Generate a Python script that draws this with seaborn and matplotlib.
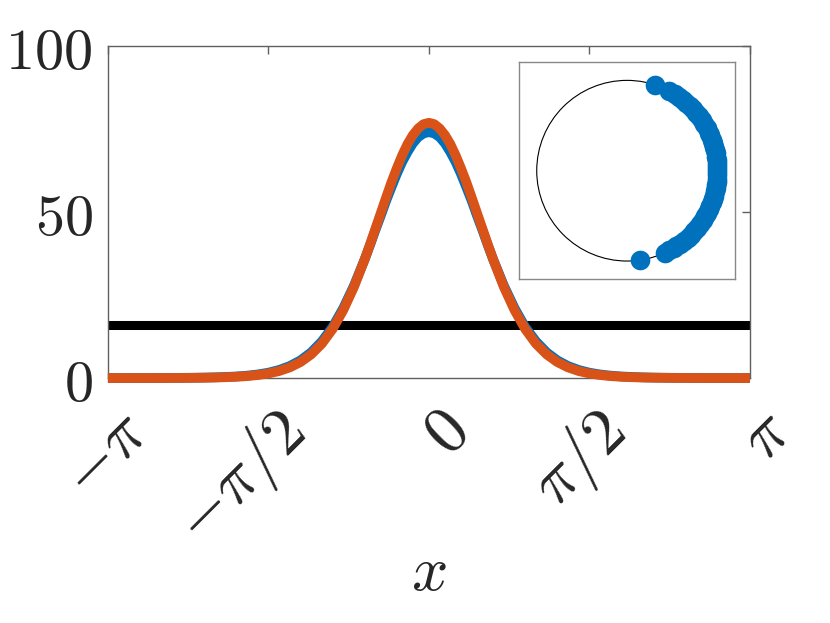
import numpy as np
import matplotlib
matplotlib.use("Agg")
import matplotlib.pyplot as plt
import matplotlib.transforms as mtransforms
import seaborn as sns
from matplotlib.patches import Circle

############################################################
# DATA
############################################################

# sampling grid of the density curves, degrees (finer near the peak)
x_deg = [
    -180, -174, -168, -162, -156, -150, -144, -138, -132, -126, -120,
    -114, -108, -102, -96, -90, -84, -78, -72, -66, -60, -54, -48, -42,
    -36, -33, -30, -27, -24, -21, -18, -15, -12, -9, -6, -3,
    0,
    3, 6, 9, 12, 15, 18, 21, 24, 27, 30, 33, 36,
    42, 48, 54, 60, 66, 72, 78, 84, 90, 96, 102, 108, 114, 120,
    126, 132, 138, 144, 150, 156, 162, 168, 174, 180,
]

# empirical density (blue), values at x_deg
empirical = [
    0.04, 0.04, 0.04, 0.05, 0.05, 0.06, 0.08, 0.10, 0.13, 0.18, 0.25,
    0.36, 0.51, 0.75, 1.11, 1.65, 2.47, 3.65, 5.36, 7.77, 11.1, 15.4,
    21.1, 27.9,
    35.8, 40.1, 44.6, 48.9, 53.4, 57.5, 61.5, 65.1, 68.1, 70.7, 72.6, 73.7,
    74.1,
    73.7, 72.6, 70.7, 68.1, 65.1, 61.5, 57.5, 53.4, 48.9, 44.6, 40.1, 35.8,
    27.9, 21.1, 15.4, 11.1, 7.77, 5.36, 3.65, 2.47, 1.65, 1.11, 0.75,
    0.51, 0.36, 0.25, 0.18, 0.13, 0.10, 0.08, 0.06, 0.05, 0.05, 0.04,
    0.04, 0.04,
]

# theoretical density (orange), values at x_deg
theory = [
    0.03, 0.03, 0.03, 0.03, 0.04, 0.04, 0.06, 0.07, 0.10, 0.13, 0.19,
    0.28, 0.41, 0.61, 0.93, 1.41, 2.14, 3.24, 4.85, 7.17, 10.4, 14.8,
    20.5, 27.5,
    35.8, 40.3, 45.0, 49.7, 54.4, 59.0, 63.2, 67.1, 70.5, 73.2, 75.2, 76.5,
    76.9,
    76.5, 75.2, 73.2, 70.5, 67.1, 63.2, 59.0, 54.4, 49.7, 45.0, 40.3, 35.8,
    27.5, 20.5, 14.8, 10.4, 7.17, 4.85, 3.24, 2.14, 1.41, 0.93, 0.61,
    0.41, 0.28, 0.19, 0.13, 0.10, 0.07, 0.06, 0.04, 0.04, 0.03, 0.03,
    0.03, 0.03,
]

# uniform level (black line)
uniform_level = 15.9

# oscillator phases shown in the inset, degrees
phases_deg = [
    -82, -65, -62, -59, -57, -54, -51, -48, -45, -42, -39, -36, -33,
    -30, -28, -25, -23, -20, -18, -16, -13, -11, -9, -7, -5, -3, -1,
    1, 3, 5, 7, 9, 11, 13, 15, 18, 20, 23, 25, 28, 31, 34, 37, 40,
    43, 46, 49, 52, 55, 58, 62, 72,
]

xtick_vals = [-np.pi, -np.pi / 2, 0, np.pi / 2, np.pi]
xtick_labels = [r"$-\pi$", r"$-\pi/2$", r"$0$", r"$\pi/2$", r"$\pi$"]
ytick_vals = [0, 50, 100]
ytick_labels = [r"$0$", r"$50$", r"$100$"]

############################################################
# STYLE
############################################################

sns.set_theme(style="white")
plt.rcParams["font.family"] = ["DejaVu Sans"]
plt.rcParams["mathtext.fontset"] = "cm"

blue = "#0072BD"
orange = "#D95319"
spine_gray = "#606060"

x_rad = np.deg2rad(x_deg)

############################################################
# MAIN AXES
############################################################

fig = plt.figure(figsize=(8.3, 6.23), dpi=100)
ax = fig.add_axes([0.130, 0.393, 0.7735, 0.533])

ax.axhline(uniform_level, color="black", linewidth=6.5, zorder=2,
           solid_capstyle="butt")

sns.lineplot(x=x_rad, y=empirical, color=blue, linewidth=7,
             ax=ax, clip_on=False, zorder=3, solid_capstyle="butt")
sns.lineplot(x=x_rad, y=theory, color=orange, linewidth=7,
             ax=ax, clip_on=False, zorder=4, solid_capstyle="butt")

ax.set_xlim(-np.pi, np.pi)
ax.set_ylim(0, 100)

# rotated x tick labels, right-top corner a bit right of the tick (MATLAB style)
ax.set_xticks(xtick_vals)
ax.set_xticklabels([])
shift = mtransforms.ScaledTranslation(53 / 100, -20 / 100, fig.dpi_scale_trans)
for val, lab in zip(xtick_vals, xtick_labels):
    ax.text(val, 0, lab, transform=ax.get_xaxis_transform() + shift,
            rotation=45, ha="right", va="top", fontsize=48, color="#262626")

ax.set_yticks(ytick_vals)
ax.set_yticklabels(ytick_labels, fontsize=42)

ax.tick_params(axis="both", direction="in", length=6, width=1,
               color=spine_gray, top=True, right=True)
ax.tick_params(axis="y", pad=11)

for s in ax.spines.values():
    s.set_color(spine_gray)
    s.set_linewidth(1)
    s.set_visible(True)

ax.set_xlabel(r"$x$", fontsize=46)
ax.xaxis.set_label_coords(0.5, -0.49)

############################################################
# INSET
############################################################

ax_in = fig.add_axes([0.624, 0.552, 0.263, 0.348])
ax_in.set_facecolor("white")

ax_in.add_patch(Circle((0, 0), 1, fill=False, edgecolor="black", linewidth=0.8))

phases = np.deg2rad(phases_deg)
sns.scatterplot(x=np.cos(phases), y=np.sin(phases), color=blue, s=200,
                linewidth=0, ax=ax_in, zorder=3)

ax_in.set_xlim(-1.2, 1.2)
ax_in.set_ylim(-1.2, 1.2)
ax_in.set_aspect("equal")
ax_in.set_xticks([])
ax_in.set_yticks([])

for s in ax_in.spines.values():
    s.set_color("#888888")
    s.set_linewidth(1)
    s.set_visible(True)

plt.savefig("out.png", dpi=100)
